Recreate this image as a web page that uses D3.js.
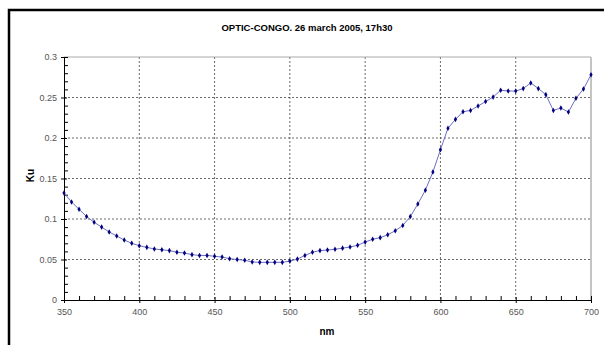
<!DOCTYPE html>
<html>
<head>
<meta charset="utf-8">
<script src="https://cdn.jsdelivr.net/npm/d3@7"></script>
<style>
  body { margin: 0; background: #fff; }
  text { font-family: "Liberation Sans", Arial, sans-serif; }
</style>
</head>
<body>
<div id="chart"></div>
<script>
const title = "OPTIC-CONGO. 26 march 2005, 17h30";
const wavelengths = [350, 355, 360, 365, 370, 375, 380, 385, 390, 395,
  400, 405, 410, 415, 420, 425, 430, 435, 440, 445,
  450, 455, 460, 465, 470, 475, 480, 485, 490, 495,
  500, 505, 510, 515, 520, 525, 530, 535, 540, 545,
  550, 555, 560, 565, 570, 575, 580, 585, 590, 595,
  600, 605, 610, 615, 620, 625, 630, 635, 640, 645,
  650, 655, 660, 665, 670, 675, 680, 685, 690, 695, 700];
const ku = [0.132, 0.121, 0.112, 0.103, 0.096, 0.090, 0.084, 0.079, 0.074, 0.070,
  0.067, 0.065, 0.063, 0.062, 0.061, 0.059, 0.058, 0.056, 0.055, 0.055,
  0.054, 0.053, 0.051, 0.050, 0.049, 0.047, 0.0465, 0.0465, 0.0465, 0.0465,
  0.048, 0.0505, 0.055, 0.059, 0.061, 0.0617, 0.0626, 0.064, 0.0655, 0.0675,
  0.0715, 0.075, 0.077, 0.0805, 0.0855, 0.092, 0.103, 0.1185, 0.1355, 0.158,
  0.1855, 0.212, 0.223, 0.2325, 0.234, 0.2395, 0.245, 0.2505, 0.259, 0.258,
  0.258, 0.261, 0.268, 0.261, 0.2535, 0.234, 0.237, 0.232, 0.249, 0.2605, 0.278];
const xTicks = [350, 400, 450, 500, 550, 600, 650, 700];
const yTicks = [0, 0.05, 0.1, 0.15, 0.2, 0.25, 0.3];

const W = 604, H = 345;
const margin = { top: 57, right: 13, bottom: 45, left: 64 };
const width = W - margin.left - margin.right;
const height = H - margin.top - margin.bottom;

const root = d3.select("#chart").append("svg")
  .attr("width", W)
  .attr("height", H);

// outer frame (runs off the right and bottom of the picture)
root.append("rect")
  .attr("x", 9).attr("y", 10)
  .attr("width", W + 10).attr("height", H + 10)
  .attr("fill", "none")
  .attr("stroke", "#000")
  .attr("stroke-width", 2.5);

root.append("text")
  .attr("x", 307).attr("y", 31)
  .attr("text-anchor", "middle")
  .style("font-size", "9.5px")
  .style("font-weight", "bold")
  .text(title);

const svg = root.append("g")
  .attr("transform", `translate(${margin.left},${margin.top})`);

const x = d3.scaleLinear().domain([350, 700]).range([0, width]);
const y = d3.scaleLinear().domain([0, 0.3]).range([height, 0]);

// grid
svg.append("g")
  .selectAll("line")
  .data(yTicks.filter(d => d > 0 && d < 0.3))
  .join("line")
  .attr("x1", 0).attr("x2", width)
  .attr("y1", d => y(d)).attr("y2", d => y(d))
  .attr("stroke", "#444")
  .attr("stroke-width", 0.8)
  .attr("stroke-dasharray", "2,2");

svg.append("g")
  .selectAll("line")
  .data(xTicks.filter(d => d > 350 && d < 700))
  .join("line")
  .attr("x1", d => x(d)).attr("x2", d => x(d))
  .attr("y1", 0).attr("y2", height)
  .attr("stroke", "#444")
  .attr("stroke-width", 0.8)
  .attr("stroke-dasharray", "2,2");

// top and right borders of plot area
svg.append("line")
  .attr("x1", 0).attr("x2", width)
  .attr("y1", y(0.3)).attr("y2", y(0.3))
  .attr("stroke", "#aaa");
svg.append("line")
  .attr("x1", x(700)).attr("x2", x(700))
  .attr("y1", 0).attr("y2", height)
  .attr("stroke", "#c4c4c4")
  .attr("stroke-width", 2);

// axes
const xAxis = svg.append("g")
  .attr("transform", `translate(0,${height})`);
xAxis.call(d3.axisBottom(x).tickValues(d3.range(360, 700, 10).filter(d => d % 50)).tickSize(-4).tickFormat(""));
xAxis.append("g").call(d3.axisBottom(x).tickValues(xTicks).tickSizeInner(4).tickSizeOuter(0).tickPadding(6).tickSizeInner(3))
  .selectAll(".tick line").attr("y1", -3);
xAxis.selectAll(".domain").attr("stroke", "#000");
xAxis.selectAll("text")
  .attr("fill", "#555")
  .style("font-size", "9px")
  .style("font-family", "'Liberation Sans', Arial, sans-serif");

const yAxis = svg.append("g");
yAxis.call(d3.axisLeft(y).tickValues(d3.range(1, 30).filter(d => d % 5).map(d => d / 100)).tickSize(-4).tickFormat(""));
yAxis.append("g").call(d3.axisLeft(y).tickValues(yTicks).tickSizeOuter(0).tickSizeInner(3).tickPadding(4).tickFormat(d3.format("")))
  .selectAll(".tick line").attr("x1", 3);
yAxis.selectAll(".domain").attr("stroke", "#000");
yAxis.selectAll("text")
  .attr("fill", "#555")
  .style("font-size", "9px")
  .style("font-family", "'Liberation Sans', Arial, sans-serif");

// axis titles
svg.append("text")
  .attr("x", 263).attr("y", height + 35)
  .attr("text-anchor", "middle")
  .style("font-size", "10px")
  .style("font-weight", "bold")
  .text("nm");

svg.append("text")
  .attr("transform", `translate(-30,${height / 2 - 3}) rotate(-90)`)
  .attr("text-anchor", "middle")
  .style("font-size", "10px")
  .style("font-weight", "bold")
  .text("Ku");

// series
const data = wavelengths.map((w, i) => ({ w, v: ku[i] }));

svg.append("path")
  .datum(data)
  .attr("fill", "none")
  .attr("stroke", "#6f6fc4")
  .attr("stroke-width", 1)
  .attr("d", d3.line().x(d => x(d.w)).y(d => y(d.v)));

svg.append("g")
  .selectAll("path")
  .data(data)
  .join("path")
  .attr("transform", d => `translate(${x(d.w)},${y(d.v)})`)
  .attr("d", d3.symbol(d3.symbolDiamond, 9))
  .attr("fill", "#000080");
</script>
</body>
</html>
